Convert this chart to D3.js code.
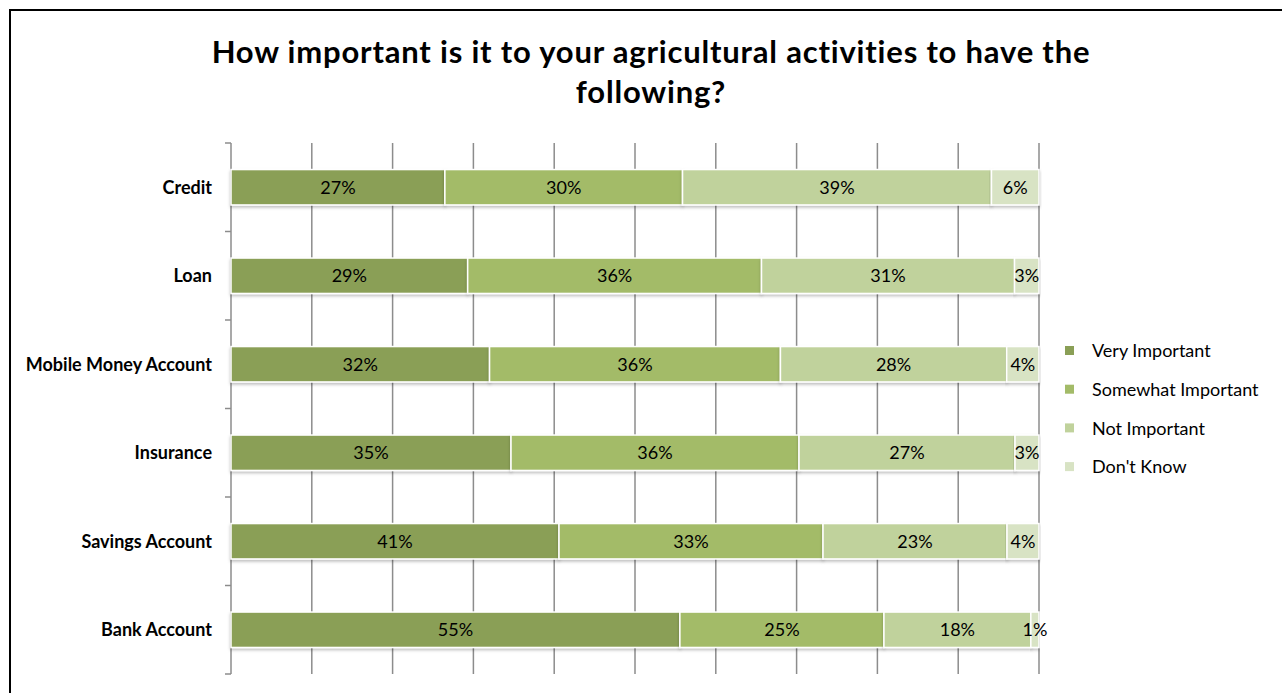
<!DOCTYPE html>
<html>
<head>
<meta charset="utf-8">
<script src="https://cdn.jsdelivr.net/npm/d3@7"></script>
<style>
  body { margin: 0; background: #fff; }
  svg { display: block; }
  text { font-family: Lato, "Open Sans", sans-serif; fill: #000; }
</style>
</head>
<body>
<svg id="chart" width="1282" height="693"></svg>
<script>
// data (labels as printed, bars normalised to 100%)
const categories = ['Credit', 'Loan', 'Mobile Money Account', 'Insurance', 'Savings Account', 'Bank Account'];
const seriesNames = ['Very Important', 'Somewhat Important', 'Not Important', "Don't Know"];
const veryImportant = [27, 29, 32, 35, 41, 55];
const somewhatImportant = [30, 36, 36, 36, 33, 25];
const notImportant = [39, 31, 28, 27, 23, 18];
const dontKnow = [6, 3, 4, 3, 4, 1];
const titleLines = ['How important is it to your agricultural activities to have the', 'following?'];

const colors = ['#8a9f56', '#a3bb68', '#c0d29c', '#d8e3c4'];

const svg = d3.select('#chart');

// outer frame
svg.append('rect')
    .attr('x', 10).attr('y', 10)
    .attr('width', 1290).attr('height', 700)
    .attr('fill', 'none')
    .attr('stroke', '#000')
    .attr('stroke-width', 2);

// title
svg.selectAll('.title')
    .data(titleLines)
    .enter()
    .append('text')
    .attr('class', 'title')
    .attr('x', 651)
    .attr('y', (d, i) => 63 + i * 40)
    .attr('text-anchor', 'middle')
    .style('font-size', '31px')
    .style('letter-spacing', '0.8px')
    .style('font-weight', 'bold')
    .text(d => d);

const rows = categories.map((c, i) => {
    let vals = [veryImportant[i], somewhatImportant[i], notImportant[i], dontKnow[i]];
    let row = {name: c};
    seriesNames.forEach((s, j) => row[s] = vals[j]);
    return row;
});

const stack = d3.stack()
    .keys(seriesNames)
    .offset(d3.stackOffsetExpand);
const layers = stack(rows);

const plot = {left: 231, right: 1039, top: 143, bottom: 674};

const x = d3.scaleLinear()
    .domain([0, 1])
    .range([plot.left, plot.right]);

const y = d3.scaleBand()
    .domain(categories)
    .range([plot.top, plot.bottom])
    .paddingInner(0.6)
    .paddingOuter(0.3);

// shadow for bars
const defs = svg.append('defs');
const shadow = defs.append('filter')
    .attr('id', 'shadow')
    .attr('x', '-5%').attr('y', '-20%')
    .attr('width', '110%').attr('height', '160%');
shadow.append('feDropShadow')
    .attr('dx', 0).attr('dy', 2)
    .attr('stdDeviation', 1.5)
    .attr('flood-color', '#000')
    .attr('flood-opacity', 0.25);

// vertical gridlines
svg.append('g')
    .selectAll('line')
    .data(d3.range(0.1, 1.01, 0.1))
    .enter()
    .append('line')
    .attr('x1', d => x(d)).attr('x2', d => x(d))
    .attr('y1', plot.top).attr('y2', plot.bottom)
    .attr('stroke', '#8c8c8c')
    .attr('stroke-width', 1.5);

// y axis with ticks at category boundaries
let boundaries = categories.map(c => y(c) - y.step() * y.paddingInner() / 2);
boundaries[0] = plot.top;
boundaries.push(plot.bottom);

const axis = svg.append('g');
axis.append('line')
    .attr('x1', plot.left).attr('x2', plot.left)
    .attr('y1', plot.top).attr('y2', plot.bottom)
    .attr('stroke', '#8c8c8c')
    .attr('stroke-width', 1.5);
axis.selectAll('.tick')
    .data(boundaries)
    .enter()
    .append('line')
    .attr('x1', plot.left - 6).attr('x2', plot.left)
    .attr('y1', d => d).attr('y2', d => d)
    .attr('stroke', '#8c8c8c')
    .attr('stroke-width', 1.5);

axis.selectAll('.cat')
    .data(categories)
    .enter()
    .append('text')
    .attr('x', plot.left - 19)
    .attr('y', d => y(d) + y.bandwidth() / 2)
    .attr('dy', '0.35em')
    .attr('text-anchor', 'end')
    .style('font-size', '18px')
    .style('font-weight', 'bold')
    .text(d => d);

// bars
const series = svg.append('g')
    .selectAll('g')
    .data(layers)
    .enter()
    .append('g')
    .attr('fill', (d, i) => colors[i]);

series.selectAll('rect')
    .data(d => d)
    .enter()
    .append('rect')
    .attr('x', d => x(d[0]))
    .attr('y', d => y(d.data.name))
    .attr('width', d => x(d[1]) - x(d[0]))
    .attr('height', y.bandwidth())
    .attr('stroke', '#fff')
    .attr('stroke-width', 1.5)
    .attr('filter', 'url(#shadow)');

series.each(function(layer){
    d3.select(this).selectAll('text')
        .data(layer)
        .enter()
        .append('text')
        .attr('x', d => (x(d[0]) + x(d[1])) / 2)
        .attr('y', d => y(d.data.name) + y.bandwidth() / 2)
        .attr('dy', '0.35em')
        .attr('text-anchor', 'middle')
        .style('font-size', '18px')
        .text(d => d.data[layer.key] + '%');
});

// legend
const legend = svg.append('g')
    .selectAll('g')
    .data(seriesNames)
    .enter()
    .append('g')
    .attr('transform', (d, i) => 'translate(1065,' + (351 + i * 38.7) + ')');

legend.append('rect')
    .attr('x', 0).attr('y', -5)
    .attr('width', 9).attr('height', 9)
    .attr('fill', (d, i) => colors[i]);

legend.append('text')
    .attr('x', 27)
    .attr('dy', '0.35em')
    .style('font-size', '18px')
    .text(d => d);
</script>
</body>
</html>
